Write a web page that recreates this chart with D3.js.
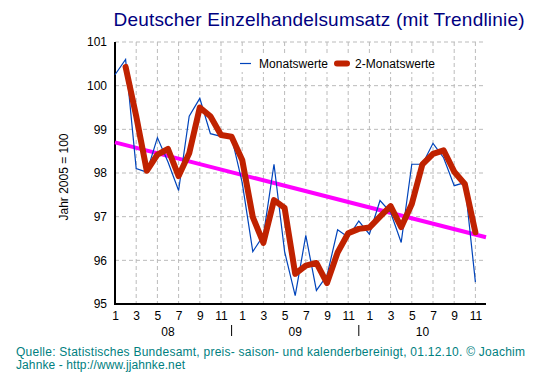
<!DOCTYPE html>
<html>
<head>
<meta charset="utf-8">
<script src="https://cdn.jsdelivr.net/npm/d3@7"></script>
<style>
  body { margin: 0; background: #fff; }
  svg { display: block; font-family: "Liberation Sans", Arial, sans-serif; }
</style>
</head>
<body>
<div id="chart"></div>
<script>
// Monatswerte, Jan 2008 .. Nov 2010
const monthly = [100.25, 100.6, 98.1, 98.02, 98.81, 98.25, 97.6, 99.3, 99.71, 98.9, 98.84, 98.82,
                 97.78, 96.2, 96.57, 98.2, 96.2, 95.19, 96.57, 95.31, 95.65, 96.7, 96.53, 96.9,
                 96.6, 97.37, 97.1, 96.41, 98.2, 98.2, 98.68, 98.35, 97.71, 97.78, 95.5];
// 2-Monatswerte, Feb 2008 .. Nov 2010
const twoMonth = [100.43, 99.3, 98.05, 98.42, 98.55, 97.93, 98.45, 99.5, 99.3, 98.87, 98.83,
                  98.3, 96.99, 96.4, 97.38, 97.2, 95.69, 95.88, 95.94, 95.48, 96.18, 96.62, 96.72,
                  96.75, 97.0, 97.24, 96.76, 97.29, 98.2, 98.44, 98.52, 98.03, 97.75, 96.64];
// Trendlinie endpoints (month index, value)
const trendIdx = [0, 35];
const trendVal = [98.70, 96.53];

const monthLabels = ["1", "3", "5", "7", "9", "11"];
const yearLabels = ["08", "09", "10"];
const yTicks = [95, 96, 97, 98, 99, 100, 101];

const W = 553, H = 376;
const plotL = 115, plotR = 486, plotT = 42, plotB = 304;

const svg = d3.select("#chart").append("svg")
    .attr("width", W)
    .attr("height", H);

const x = d3.scaleLinear().domain([0, 34]).range([plotL, 475.4]);
const y = d3.scaleLinear().domain([95, 101]).range([plotB, plotT]);

// grid
const grid = svg.append("g")
    .attr("stroke", "#bbbbbb")
    .attr("stroke-dasharray", "4,3");
grid.selectAll("line.h")
    .data(yTicks.filter(d => d > 95))
    .enter().append("line")
    .attr("x1", plotL).attr("x2", plotR)
    .attr("y1", d => y(d)).attr("y2", d => y(d));
grid.selectAll("line.v")
    .data(d3.range(2, 35, 2))
    .enter().append("line")
    .attr("x1", d => x(d)).attr("x2", d => x(d))
    .attr("y1", plotT).attr("y2", plotB);

// y axis labels
const yAxis = svg.append("g")
    .attr("transform", `translate(${plotL},0)`)
    .call(d3.axisLeft(y).tickValues(yTicks).tickSize(0).tickPadding(8).tickFormat(d3.format("d")));
yAxis.select(".domain").remove();
yAxis.selectAll("text").attr("font-size", 12).attr("fill", "#000")
    .attr("font-family", "Liberation Sans, Arial, sans-serif");

// x axis labels
const xAxis = svg.append("g")
    .attr("transform", `translate(0,${plotB})`)
    .call(d3.axisBottom(x).tickValues(d3.range(0, 35, 2)).tickSize(0)
        .tickFormat(i => monthLabels[(i % 12) / 2]));
xAxis.select(".domain").remove();
xAxis.selectAll("text").attr("font-size", 12).attr("fill", "#000")
    .attr("y", 7).attr("font-family", "Liberation Sans, Arial, sans-serif");

// year labels and separators
svg.selectAll("text.year")
    .data(yearLabels)
    .enter().append("text")
    .attr("x", (d, i) => x(5 + i * 12))
    .attr("y", 336)
    .attr("text-anchor", "middle")
    .attr("font-size", 12)
    .text(d => d);
svg.selectAll("line.sep")
    .data([11, 23])
    .enter().append("line")
    .attr("x1", d => x(d)).attr("x2", d => x(d))
    .attr("y1", 325).attr("y2", 336)
    .attr("stroke", "#000");

// axis lines
svg.append("line").attr("x1", plotL).attr("x2", plotL).attr("y1", plotT).attr("y2", plotB + 1)
    .attr("stroke", "#000").attr("stroke-width", 2);
svg.append("line").attr("x1", plotL - 1).attr("x2", plotR).attr("y1", plotB).attr("y2", plotB)
    .attr("stroke", "#000").attr("stroke-width", 2);

// trend line
svg.append("path")
    .datum(trendIdx.map((d, i) => [d, trendVal[i]]))
    .attr("fill", "none")
    .attr("stroke", "#ff00ff")
    .attr("stroke-width", 4)
    .attr("d", d3.line().x(d => x(d[0])).y(d => y(d[1])));

// monthly line
svg.append("path")
    .datum(monthly)
    .attr("fill", "none")
    .attr("stroke", "#0044bb")
    .attr("stroke-width", 1.2)
    .attr("d", d3.line().x((d, i) => x(i)).y(d => y(d)));

// 2-month line
svg.append("path")
    .datum(twoMonth)
    .attr("fill", "none")
    .attr("stroke", "#c02200")
    .attr("stroke-width", 6)
    .attr("stroke-linejoin", "round")
    .attr("stroke-linecap", "round")
    .attr("d", d3.line().x((d, i) => x(i + 1)).y(d => y(d)));

// legend
const lg = svg.append("g").attr("font-size", 12);
lg.append("rect").attr("x", 236).attr("y", 54).attr("width", 204).attr("height", 18).attr("fill", "#fff");
lg.append("line").attr("x1", 240).attr("x2", 251).attr("y1", 63.5).attr("y2", 63.5)
    .attr("stroke", "#0044bb").attr("stroke-width", 1.2);
lg.append("text").attr("x", 259).attr("y", 68).attr("textLength", 69).text("Monatswerte");
lg.append("line").attr("x1", 337).attr("x2", 347).attr("y1", 63.5).attr("y2", 63.5)
    .attr("stroke", "#c02200").attr("stroke-width", 6).attr("stroke-linecap", "round");
lg.append("text").attr("x", 355).attr("y", 68).attr("textLength", 80).text("2-Monatswerte");

// y axis title
svg.append("text")
    .attr("transform", "translate(68,177) rotate(-90)")
    .attr("text-anchor", "middle")
    .attr("font-size", 12)
    .text("Jahr 2005 = 100");

// title
svg.append("text")
    .attr("x", 319).attr("y", 26)
    .attr("text-anchor", "middle")
    .attr("font-size", 19)
    .attr("textLength", 411)
    .attr("fill", "#000080")
    .text("Deutscher Einzelhandelsumsatz (mit Trendlinie)");

// footer
const foot = svg.append("text").attr("font-size", 12).attr("fill", "#008080");
foot.append("tspan").attr("x", 16).attr("y", 356).attr("textLength", 509)
    .text("Quelle: Statistisches Bundesamt, preis- saison- und kalenderbereinigt, 01.12.10. © Joachim");
foot.append("tspan").attr("x", 16).attr("y", 369).attr("textLength", 169)
    .text("Jahnke - http://www.jjahnke.net");
</script>
</body>
</html>
